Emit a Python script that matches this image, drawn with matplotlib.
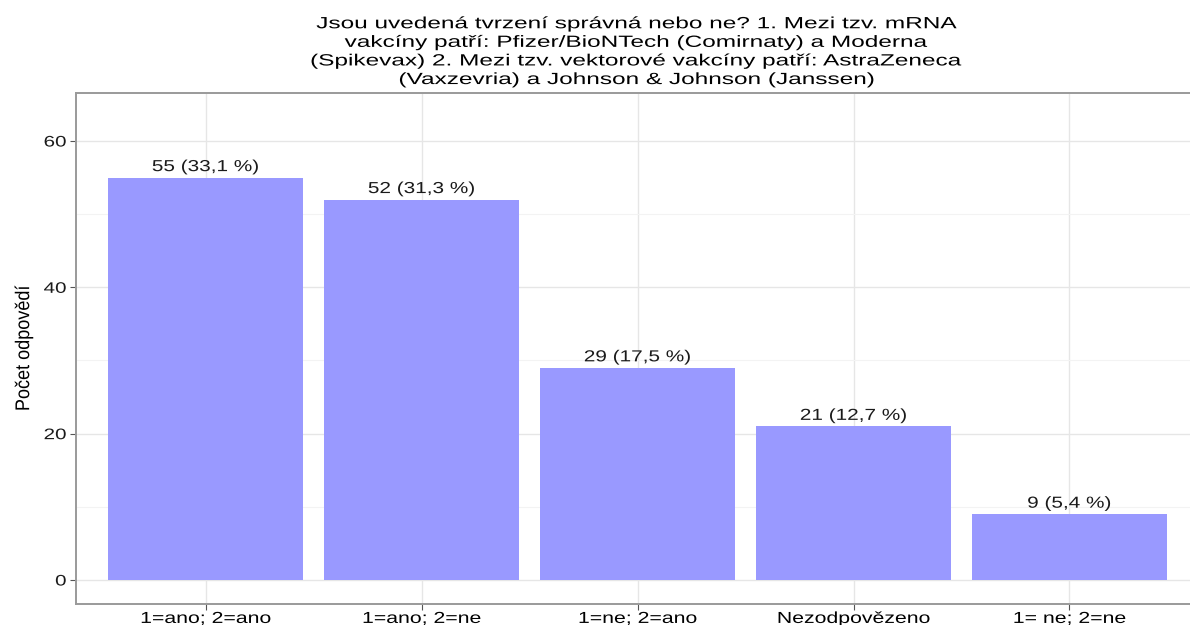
import matplotlib.pyplot as plt
from matplotlib.ticker import MultipleLocator
from matplotlib.patheffects import AbstractPathEffect
from matplotlib.transforms import Affine2D

categories = ['1=ano; 2=ano', '1=ano; 2=ne', '1=ne; 2=ano', 'Nezodpovězeno', '1= ne; 2=ne']
counts = [55, 52, 29, 21, 9]
percents = ['33,1', '31,3', '17,5', '12,7', '5,4']

title = ('Jsou uvedená tvrzení správná nebo ne? 1. Mezi tzv. mRNA\n'
         'vakcíny patří: Pfizer/BioNTech (Comirnaty) a Moderna\n'
         '(Spikevax) 2. Mezi tzv. vektorové vakcíny patří: AstraZeneca\n'
         '(Vaxzevria) a Johnson & Johnson (Janssen)')


# the original picture is stretched sideways, so the text is wider than normal
class StretchX(AbstractPathEffect):
    def __init__(self, sx, anchor='center'):
        super().__init__()
        self.sx = sx
        self.anchor = anchor

    def draw_path(self, renderer, gc, tpath, affine, rgbFace=None):
        ext = tpath.get_extents(affine)
        cx = ext.x1 if self.anchor == 'right' else (ext.x0 + ext.x1) / 2
        t = affine + Affine2D().translate(-cx, 0).scale(self.sx, 1).translate(cx, 0)
        renderer.draw_path(gc, tpath, t, rgbFace)


plt.rcParams['font.family'] = ['Liberation Sans', 'DejaVu Sans']

fig = plt.figure(figsize=(11.9, 6.25), dpi=100)
# panel is cut off on the right side in the original
ax = fig.add_axes([0.0639, 0.0336, 0.9437, 0.8176])

x = list(range(len(categories)))
ax.bar(x, counts, width=0.9, color='#9999ff', zorder=3)

for xi, c, p in zip(x, counts, percents):
    ax.annotate(f'{c} ({p} %)', (xi, c), xytext=(0, 2.5), textcoords='offset points',
                ha='center', va='bottom', fontsize=11.5, color='#1a1a1a', zorder=4,
                path_effects=[StretchX(1.3)])

ax.set_xlim(-0.6, len(categories) - 0.4)
ax.set_ylim(-3.28, 66.56)
ax.set_xticks(x)
ax.set_xticklabels(categories, fontsize=11.5, color='black')
ax.yaxis.set_major_locator(MultipleLocator(20))
ax.yaxis.set_minor_locator(MultipleLocator(10))
ax.tick_params(axis='y', labelsize=11, labelcolor='#1a1a1a', pad=3)
ax.tick_params(axis='x', pad=1)
ax.tick_params(which='major', length=4, width=0.8, color='#555555')
ax.tick_params(which='minor', length=0)
for lbl in ax.get_xticklabels():
    lbl.set_path_effects([StretchX(1.33)])
for lbl in ax.get_yticklabels():
    lbl.set_path_effects([StretchX(1.35, 'right')])

ax.grid(which='major', color='#e6e6e6', linewidth=1.0, zorder=0)
ax.grid(which='minor', axis='y', color='#f3f3f3', linewidth=0.8, zorder=0)

for s in ['left', 'bottom', 'top']:
    ax.spines[s].set_color('#9a9a9a')
    ax.spines[s].set_linewidth(1.4)
ax.spines['right'].set_visible(False)

ax.set_ylabel('Počet odpovědí', fontsize=13, labelpad=12,
              path_effects=[StretchX(1.1)])

fig.text(0.535, 0.974, title, ha='center', va='top', fontsize=11.7, linespacing=1.3,
         path_effects=[StretchX(1.5)])

fig.savefig('out.png', dpi=100)
